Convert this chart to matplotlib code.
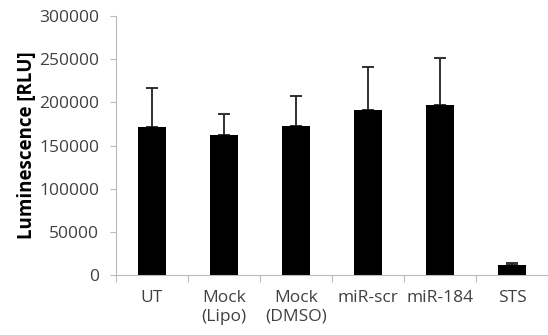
import numpy as np
import matplotlib.pyplot as plt

plt.rcParams['font.family'] = ['Open Sans', 'DejaVu Sans']

categories = ["UT", "Mock\n(Lipo)", "Mock\n(DMSO)", "miR-scr", "miR-184", "STS"]
values = [171600, 162300, 172400, 191400, 196900, 12000]
errors = [45400, 24400, 34900, 50000, 54600, 2300]
y_ticks = [0, 50000, 100000, 150000, 200000, 250000, 300000]

fig = plt.figure(figsize=(5.48, 3.35), dpi=100)
ax = fig.add_axes([116 / 548, 60 / 335, 432 / 548, 259 / 335])

x = np.arange(len(categories))
ax.bar(x, values, width=0.39, color='black', zorder=2)
ax.errorbar(x, values, yerr=[np.zeros(len(errors)), errors], fmt='none',
            ecolor='#222222', elinewidth=1.3, capsize=4, capthick=1.3, zorder=1)

ax.set_xlim(-0.5, len(categories) - 0.5)
ax.set_ylim(0, 300000)
ax.set_yticks(y_ticks)
ax.set_yticklabels([str(t) for t in y_ticks])

ax.set_xticks(x)
ax.set_xticklabels(categories, fontsize=12.5, color='#404040', linespacing=1.2)
ax.tick_params(axis='x', length=0, pad=11)
ax.set_xticks(np.arange(len(categories) + 1) - 0.5, minor=True)
ax.tick_params(axis='x', which='minor', length=5, color='#bbbbbb', width=0.8)
ax.tick_params(axis='y', length=4, color='#bbbbbb', width=0.8, labelsize=12.5,
               labelcolor='#404040', pad=8)

for side in ['top', 'right']:
    ax.spines[side].set_visible(False)
for side in ['left', 'bottom']:
    ax.spines[side].set_color('#bbbbbb')
    ax.spines[side].set_linewidth(0.8)

ax.set_ylabel("Luminescence [RLU]", fontsize=13.5, fontweight='bold', labelpad=2)

fig.savefig("out.png", dpi=100)
